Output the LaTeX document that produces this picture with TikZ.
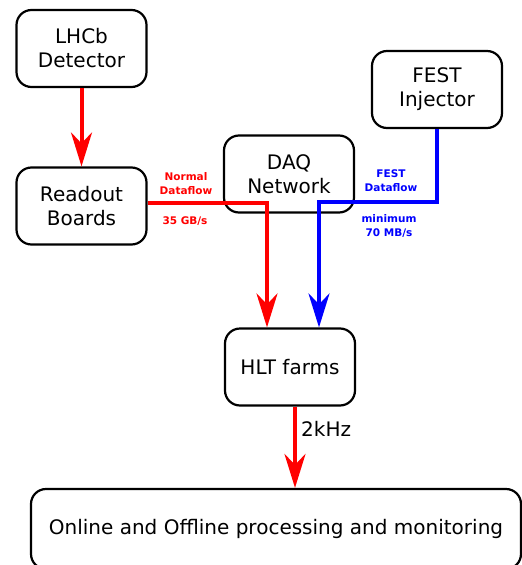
\documentclass[tikz,border=0pt]{standalone}
\usepackage{fontspec}
\setmainfont{DejaVu Sans}
\usetikzlibrary{arrows.meta}
\begin{document}
\begin{tikzpicture}[x=1pt,y=-1pt,
  box/.style={draw=black, line width=2.2pt, rounded corners=15pt, fill=white, align=center,
    font=\fontsize{20}{24}\selectfont, inner sep=0pt, minimum width=130pt, minimum height=77pt},
  flow/.style={line width=4pt, -{Stealth[length=34pt,width=21pt,inset=11pt]}},
  redflow/.style={flow, draw=red},
  blueflow/.style={flow, draw=blue},
  lbl/.style={font=\fontsize{10.5}{14}\selectfont\bfseries, align=center, inner sep=0pt}]
\useasboundingbox (0,0) rectangle (522,565);
\clip (0,0) rectangle (522,565);
\node[box] (lhcb) at (81.5,48.5) {LHCb\\Detector};
\node[box] (readout) at (81.5,206) {Readout\\Boards};
\node[box] (daq) at (289,174) {DAQ\\Network};
\node[box] (fest) at (437,89.5) {FEST\\Injector};
\node[box] (hlt) at (290,367) {HLT farms};
\node[box, minimum width=490pt, minimum height=80pt] (online) at (276,529) {Online and Offline processing and monitoring};

\coordinate (bj) at (437,202);
\draw[redflow] (lhcb.south) -- (readout.north);
\draw[redflow] ([yshift=3pt]readout.east) -| ([xshift=-23pt]hlt.north);
\draw[blueflow] (fest.south) -- (bj) -| ([xshift=29pt]hlt.north);
\draw[redflow] ([xshift=5pt]hlt.south) -- ([xshift=5pt]hlt.south |- online.north);

\node[lbl, text=red] (normal) at (186,184) {Normal\\Dataflow};
\node[lbl, text=red] (gbs) at (185,221) {35 GB/s};
\node[lbl, text=blue] (festflow) at (391,181) {FEST\\Dataflow};
\node[lbl, text=blue] (minimum) at (389,226) {minimum\\70 MB/s};
\node[anchor=west, inner sep=0pt, font=\fontsize{20}{24}\selectfont] (khz) at (301,428.5) {2kHz};
\end{tikzpicture}
\end{document}
